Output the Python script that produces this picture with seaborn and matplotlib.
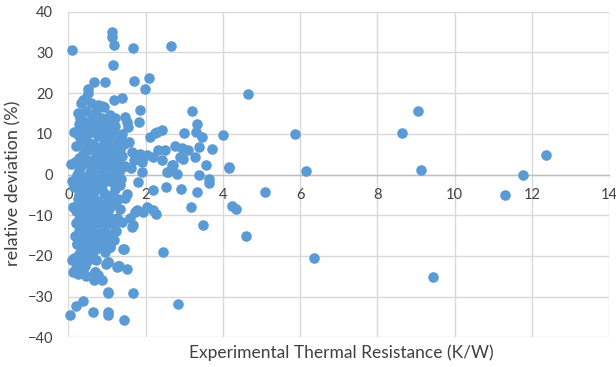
"""
Relative deviation vs experimental thermal resistance (Excel-style scatter).
"""

import pandas as pd
import matplotlib
matplotlib.use('Agg')
import matplotlib.pyplot as plt
import seaborn as sns

# dense cluster
core_x = [0.15, 0.20, 0.18, 0.22, 0.16, 0.24, 0.19, 0.21, 0.17, 0.23, 0.14, 0.20, 0.25,
          0.33, 0.30, 0.36, 0.32, 0.38, 0.34, 0.31, 0.37, 0.35, 0.30, 0.39, 0.33, 0.36, 0.31, 0.38,
          0.50, 0.47, 0.53, 0.45, 0.52, 0.48, 0.55, 0.46, 0.51, 0.54, 0.49, 0.47, 0.53, 0.50, 0.45,
          0.62, 0.67, 0.64, 0.69, 0.61, 0.66, 0.63, 0.70, 0.65, 0.62, 0.68, 0.64, 0.69, 0.66,
          0.78, 0.83, 0.76, 0.81, 0.85, 0.79, 0.84, 0.77, 0.82, 0.80, 0.86, 0.78, 0.78,
          0.92, 0.97, 0.94, 1.00, 0.91, 0.96, 0.93, 0.99, 0.95, 0.92, 0.98, 0.94, 0.97,
          1.08, 1.12, 1.06, 1.14, 1.10, 1.07, 1.13, 1.09, 1.15, 1.06, 1.08, 1.04,
          1.22, 1.27, 1.20, 1.29, 1.24, 1.21, 1.28, 1.25, 1.23, 1.30,
          1.38, 1.45, 1.40, 1.48, 1.36, 1.51, 1.47, 1.38, 1.42, 1.53,
          1.58, 1.65, 1.70, 1.62, 1.81, 1.73, 1.60, 1.64, 1.67,
          1.85, 1.92, 1.90, 1.79, 1.94, 2.03]
core_y = [10.5, 7.0, 3.0, 0.0, -3.0, -6.0, -9.0, -12.0, -15.0, -17.0, -20.5, -23.0, -24.5,
          17.5, 14.0, 11.0, 8.0, 5.0, 2.0, -1.0, -4.0, -7.5, -10.0, -13.0, -16.0, -18.0, -21.0, -24.0,
          20.0, 15.5, 12.0, 9.0, 6.0, 3.5, 0.5, -2.5, -5.5, -9.0, -11.5, -14.5, -17.0, -21.0, -25.0,
          14.0, 10.5, 7.5, 4.0, 1.0, -2.0, -5.0, -8.0, -10.5, -13.5, -16.0, -19.0, -23.9, -26.0,
          17.0, 12.5, 9.5, 6.5, 3.0, 0.0, -3.0, -6.5, -9.5, -12.0, -15.0, -18.0, -24.7,
          16.5, 11.5, 8.0, 5.0, 2.0, -1.0, -4.5, -7.0, -10.0, -13.0, -16.0, -19.0, -22.0,
          14.5, 10.0, 7.0, 4.0, 1.5, -1.5, -5.0, -8.0, -11.0, -14.5, -17.8, -21.5,
          12.0, 8.5, 5.5, 3.0, 0.0, -3.5, -6.0, -10.8, -14.0, -22.5,
          10.0, 7.5, 4.5, 2.0, -1.0, -4.7, -5.8, -11.6, -18.2, -23.1,
          8.0, 5.5, 3.5, 1.5, -1.8, -9.2, -10.8, -12.9, -12.5,
          5.0, 3.0, 0.6, -8.8, -9.2, -8.0]

# in-between points that close the gaps inside the cluster
fill_x = [0.27, 0.27, 0.27, 0.27, 0.27, 0.27, 0.27, 0.27, 0.27, 0.27,
          0.42, 0.42, 0.42, 0.42, 0.42, 0.42, 0.42, 0.42, 0.42, 0.42, 0.42, 0.42,
          0.58, 0.58, 0.58, 0.58, 0.58, 0.58, 0.58, 0.58, 0.58, 0.58, 0.58,
          0.72, 0.72, 0.72, 0.72, 0.72, 0.72, 0.72, 0.72, 0.72, 0.72,
          0.88, 0.88, 0.88, 0.88, 0.88, 0.88, 0.88, 0.88, 0.88, 0.88,
          1.02, 1.02, 1.02, 1.02, 1.02, 1.02, 1.02, 1.02, 1.02,
          1.18, 1.18, 1.18, 1.18, 1.18, 1.18, 1.18,
          1.33, 1.33, 1.33, 1.33, 1.33]
fill_y = [12.5, 9.5, 4.0, 1.0, -2.0, -5.0, -8.5, -11.0, -14.0, -19.5,
          18.5, 13.0, 10.0, 6.5, 3.0, -0.5, -3.5, -6.5, -10.0, -15.5, -19.0, -22.5,
          17.5, 13.5, 10.5, 7.5, 2.0, -1.0, -4.0, -7.0, -12.5, -15.5, -20.0,
          15.5, 12.0, 5.5, 2.5, -0.5, -3.5, -11.5, -14.5, -17.5, -21.0,
          14.0, 10.0, 7.0, 4.0, 0.5, -2.5, -8.0, -11.0, -14.0, -17.0,
          13.0, 9.0, 6.5, 3.0, -0.5, -6.0, -9.0, -12.0, -15.0,
          10.5, 6.5, 2.0, -2.0, -7.0, -12.5, -16.0,
          9.0, 6.0, 1.0, -2.5, -8.5]

# sparse points above and below the cluster
edge_x = [0.10, 0.08, 0.10, 0.12, 0.04, 0.19, 0.39, 0.13, 0.10,
          0.52, 0.66, 0.95, 1.69, 2.08, 1.99, 1.12, 1.14, 1.17, 1.68, 2.67, 1.16,
          0.39, 0.86, 1.17, 1.38, 1.86, 1.84, 0.26, 0.91, 1.21, 1.47, 1.51, 1.55,
          0.63, 1.02, 1.03, 1.02, 1.04, 1.44, 1.67, 1.44, 1.28, 0.17, 0.86, 1.04,
          1.25, 0.69, 0.35, 0.26, 0.52, 0.22, 0.39, 0.65, 1.08, 0.95, 0.82, 0.56]
edge_y = [30.7, 2.5, -1.5, -8.0, -34.4, -32.3, -31.1, -24.0, -21.0,
          21.1, 22.8, 22.8, 23.0, 23.7, 20.9, 34.9, 33.8, 31.9, 31.1, 31.6, 27.0,
          18.3, 16.8, 18.3, 18.7, 15.8, 12.8, 15.0, 11.7, 13.8, 14.2, 12.9, 11.7,
          -33.7, -33.8, -34.6, -28.8, -29.1, -35.8, -29.2, -18.4, -22.4, -23.9, -26.0, -21.5,
          -22.7, -23.9, -21.5, -24.3, -21.1, -17.0, -17.4, -17.8, -17.8, -16.1, -14.5, -12.0]

# mid range, 2 to 4 K/W
mid_x = [2.12, 2.29, 2.42, 2.25, 2.03, 2.33, 2.51, 2.42, 2.76, 2.72, 2.89, 2.94, 3.11,
         3.39, 3.71, 2.20, 2.98, 3.28, 3.57, 4.16, 4.15, 2.68, 2.59, 2.81, 3.39, 3.63,
         3.63, 2.20, 2.52, 2.91, 3.34, 3.18, 2.20, 2.27, 3.50, 2.44, 2.85, 3.20, 3.34,
         3.46, 3.31, 3.00, 4.00, 2.55]
mid_y = [9.2, 10.5, 11.0, 10.1, 4.7, 6.0, 6.0, 3.5, 7.0, 2.3, 4.3, 6.4, 6.0,
         6.8, 6.2, 4.3, 3.9, 4.3, 2.3, 1.9, 1.5, 2.3, 0.6, 0.2, -0.2, -1.0,
         -2.2, -3.9, -3.0, -3.6, -4.3, -8.0, -8.8, -9.8, -12.3, -19.0, -31.7, 15.6, 12.4,
         9.2, 10.5, 10.3, 9.7, 0.6]

# high resistance points
far_x = [4.66, 5.09, 4.60, 4.23, 4.34, 5.87, 6.15, 6.36, 8.64, 9.06, 9.14, 9.45,
         11.31, 11.78, 12.37]
far_y = [19.8, -4.4, -15.2, -7.7, -8.4, 9.9, 0.8, -20.4, 10.1, 15.5, 1.1, -25.3,
         -5.1, -0.2, 4.7]

X_TICKS = [0, 2, 4, 6, 8, 10, 12, 14]
Y_TICKS = [-40, -30, -20, -10, 0, 10, 20, 30, 40]

BLUE = '#5B9BD5'
GRID = '#D9D9D9'
TEXT = '#404040'


def main():
    df = pd.DataFrame({
        'resistance': core_x + fill_x + edge_x + mid_x + far_x,
        'deviation': core_y + fill_y + edge_y + mid_y + far_y,
    })

    sns.set_style('white')
    plt.rcParams['font.family'] = ['Lato', 'DejaVu Sans']

    fig = plt.figure(figsize=(6.16, 3.67), dpi=100)
    ax = fig.add_axes([0.1109, 0.0809, 0.8778, 0.8872])

    sns.scatterplot(data=df, x='resistance', y='deviation', ax=ax,
                    color=BLUE, s=58, linewidth=0, alpha=1.0, zorder=3)
    for coll in ax.collections:
        coll.set_clip_on(False)

    ax.set_xlim(0, 14)
    ax.set_ylim(-40, 40)
    ax.set_xticks(X_TICKS)
    ax.set_yticks(Y_TICKS)

    # Excel-like grid, all borders come from gridlines
    ax.grid(True, color=GRID, linewidth=1.0)
    ax.set_axisbelow(True)
    for side in ['top', 'right', 'left']:
        ax.spines[side].set_visible(False)
    ax.spines['bottom'].set_position(('data', 0))
    ax.spines['bottom'].set_color('#BFBFBF')
    ax.spines['bottom'].set_linewidth(1.0)
    ax.spines['bottom'].set_zorder(1)

    ax.tick_params(axis='both', length=0, labelsize=10.5, colors=TEXT)
    ax.tick_params(axis='x', pad=10)
    ax.tick_params(axis='y', pad=11)
    ax.set_xlabel('')
    ax.set_ylabel('')

    fig.text(0.5545, 0.040, 'Experimental Thermal Resistance (K/W)',
             ha='center', va='center', fontsize=12.5, color=TEXT)
    fig.text(0.022, 0.5, 'relative deviation (%)', rotation='vertical',
             ha='center', va='center', fontsize=13, color=TEXT)

    fig.savefig('out.png', dpi=100, facecolor='white')
    plt.close(fig)


if __name__ == '__main__':
    main()
